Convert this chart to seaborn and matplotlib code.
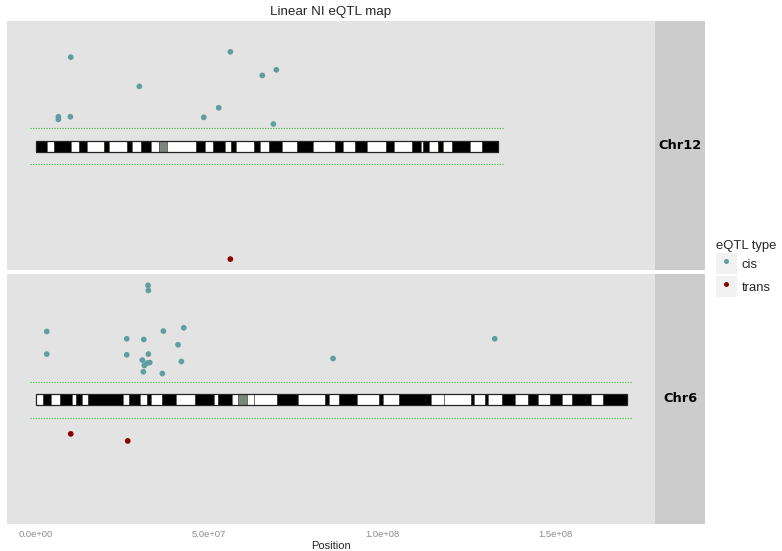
import numpy as np
import pandas as pd
import seaborn as sns
import matplotlib
matplotlib.use("Agg")
import matplotlib.pyplot as plt
from matplotlib.patches import Rectangle
from matplotlib.lines import Line2D
from matplotlib.legend_handler import HandlerTuple

# ---- data (positions in Mb, scores in plot units; ideogram sits at 0) ----
chroms = ["Chr12", "Chr6"]
chrom_len = {"Chr12": 133.6, "Chr6": 170.8}

# band edges (Mb) and stain per band: B = dark, W = light, C = centromere
chr12_edges = [0, 3.27, 5.2, 10.0, 12.5, 14.8, 19.7, 21.2, 26.3, 27.7, 30.4, 33.2,
               35.6, 37.9, 46.2, 48.8, 51.2, 54.7, 56.3, 57.8, 63.0, 64.8, 67.3,
               71.2, 75.3, 80.0, 86.3, 88.6, 92.2, 95.8, 101.2, 103.5, 108.6, 111.2,
               111.8, 113.7, 116.3, 117.5, 120.1, 125.4, 128.8, 133.6]
chr12_stain = list("BWBWBWBWBWBW" + "C" + "W" + "BWBWBWBWBWBWBWBWBWBWBWBWBWB")

chr6_edges = [0, 2.1, 4.25, 6.9, 10.5, 11.5, 13.3, 15.1, 25.1, 26.9, 30.1, 32.0,
              33.3, 36.5, 40.4, 46.0, 51.5, 52.6, 56.7, 58.5, 60.9, 63.0, 69.7,
              75.6, 83.5, 84.6, 87.6, 92.8, 99.0, 100.2, 105.0, 114.2, 117.9, 125.6,
              126.7, 129.8, 130.7, 134.7, 138.4, 142.3, 145.0, 148.5, 151.9, 154.9,
              160.4, 163.8, 170.8]
chr6_stain = list("WBWBWBWBWBWBWBWBWBWC" + "WWBWBWBWBWBW" + "WBWBWBWBWBWBWB")

bands = {"Chr12": (chr12_edges, chr12_stain), "Chr6": (chr6_edges, chr6_stain)}

chr12_pos = [10.03, 6.45, 6.45, 9.91, 29.86, 56.16, 48.47, 52.8, 65.4, 69.45, 68.6,
             56.16]
chr12_score = [8.92, 2.95, 2.69, 2.95, 5.99, 9.45, 2.89, 3.85, 7.09, 7.65, 2.22,
               -11.31]
chr12_type = ["cis"] * 11 + ["trans"]

chr6_pos = [32.37, 32.46, 3.09, 3.09, 26.21, 31.13, 36.79, 42.69, 41.04, 26.21,
            32.46, 30.72, 32.86, 32.08, 31.3, 42.0, 31.01, 36.5, 85.84, 132.57,
            10.03, 26.5]
chr6_score = [11.43, 10.93, 6.83, 4.57, 6.1, 6.03, 6.87, 7.2, 5.5, 4.5, 4.57, 3.97,
              3.73, 3.67, 3.43, 3.83, 2.8, 2.63, 4.13, 6.1, -3.4, -4.1]
chr6_type = ["cis"] * 20 + ["trans"] * 2

threshold = 1.8

eqtl = pd.concat([
    pd.DataFrame({"chrom": "Chr12", "pos": chr12_pos, "score": chr12_score, "type": chr12_type}),
    pd.DataFrame({"chrom": "Chr6", "pos": chr6_pos, "score": chr6_score, "type": chr6_type}),
])
eqtl["pos"] = eqtl["pos"] * 1e6

xticks = [0, 5e7, 1e8, 1.5e8]
xtick_labels = ["0.0e+00", "5.0e+07", "1.0e+08", "1.5e+08"]

# ---- style ----
sns.set_theme(style="white")
plt.rcParams["font.family"] = ["Liberation Sans", "DejaVu Sans"]

palette = {"cis": "#5F9EA0", "trans": "#8B0000"}
stain_color = {"B": "black", "W": "white", "C": "#7d867d"}

W, H = 782, 551
def px_box(x0, y0, x1, y1):
    return [x0 / W, 1 - y1 / H, (x1 - x0) / W, (y1 - y0) / H]

fig = plt.figure(figsize=(W / 100, H / 100), dpi=100)
rows = {"Chr12": (20.7, 270), "Chr6": (274, 524)}

for i, chrom in enumerate(chroms):
    top, bot = rows[chrom]
    ax = fig.add_axes(px_box(7, top, 655, bot))
    ax.set_facecolor("#E3E3E3")
    for s in ax.spines.values():
        s.set_visible(False)

    edges, stain = bands[chrom]
    edges = np.array(edges) * 1e6
    ax.bar(x=edges[:-1], height=1.1, width=np.diff(edges), bottom=-0.55, align="edge",
           color=[stain_color[c] for c in stain], edgecolor="#3b3b30",
           linewidth=0.4, zorder=2)
    ax.bar(x=0, height=1.1, width=chrom_len[chrom] * 1e6, bottom=-0.55, align="edge",
           fill=False, edgecolor="#222222", linewidth=0.9, zorder=3)
    ax.hlines([threshold, -threshold], -1.7e6, chrom_len[chrom] * 1e6 + 1.5e6,
              colors="#33bb33", linestyles=(0, (1, 1.4)), linewidth=0.8, zorder=2)

    sns.scatterplot(data=eqtl[eqtl["chrom"] == chrom], x="pos", y="score",
                    hue="type", palette=palette, s=17, linewidth=0,
                    legend=False, ax=ax, zorder=4)

    ax.set_xlim(-8.4e6, 178.9e6)
    ax.set_ylim(-12.4, 12.57)
    ax.set_yticks([])
    ax.set_xlabel("")
    ax.set_ylabel("")
    ax.grid(False)
    if i == len(chroms) - 1:
        ax.set_xticks(xticks)
        ax.set_xticklabels(xtick_labels, fontsize=6.8, color="#8c8c8c")
        ax.tick_params(axis="x", length=0, pad=4.5)
    else:
        ax.set_xticks([])

    sax = fig.add_axes(px_box(655, top, 705, bot))
    sax.set_facecolor("#CCCCCC")
    sax.set_xticks([])
    sax.set_yticks([])
    for s in sax.spines.values():
        s.set_visible(False)
    sax.text(0.5, 0.5, chrom, ha="center", va="center", fontsize=9.3,
             fontweight="bold", family="DejaVu Sans", color="black")

fig.text(331 / W, 1 - 12 / H, "Linear NI eQTL map", ha="center", va="center",
         fontsize=9.6)
fig.text(331 / W, 1 - 546 / H, "Position", ha="center", va="center", fontsize=8)

handles = [(Rectangle((0, 0), 1, 1, facecolor="#F2F2F2", edgecolor="none"),
            Line2D([], [], marker="o", ls="", color=palette[t], ms=3.6, mew=0))
           for t in ["cis", "trans"]]
fig.legend(handles, ["cis", "trans"], handler_map={tuple: HandlerTuple(ndivide=1, pad=0)},
           title="eQTL type", loc="upper left", bbox_to_anchor=(716 / W, 1 - 239.5 / H),
           frameon=False, fontsize=9.4, title_fontsize=9.4, handlelength=1.6,
           handleheight=2.1, handletextpad=0.35, labelspacing=0.15, borderpad=0,
           borderaxespad=0, alignment="left")

fig.savefig("out.png", dpi=100)
